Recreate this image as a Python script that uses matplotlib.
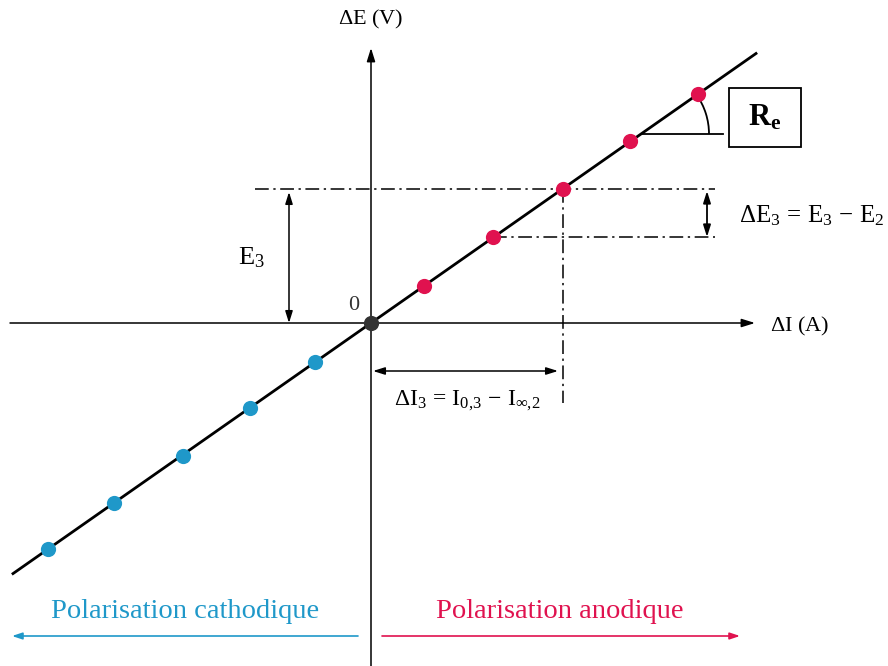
import matplotlib
matplotlib.use("Agg")
import matplotlib.pyplot as plt
import numpy as np
from matplotlib.patches import Arc, Rectangle

plt.rcParams['font.family'] = ['Liberation Serif', 'DejaVu Serif']
plt.rcParams['mathtext.fontset'] = 'custom'
plt.rcParams['mathtext.rm'] = 'Liberation Serif'
plt.rcParams['mathtext.it'] = 'Liberation Serif:italic'
plt.rcParams['mathtext.bf'] = 'Liberation Serif:bold'

# data (arbitrary units, origin at 0)
anodic_dI = [53, 122, 192, 259, 327]
anodic_dE = [37, 86, 134, 182, 229]
cathodic_dI = [-56, -121, -188, -257, -323]
cathodic_dE = [-39, -85, -133, -180, -226]
origin = [0, 0]
Re = 0.70
line_dI = [-358, 385]

RED = '#e0124f'
BLUE = '#1f98c9'
DARK = '#333333'

fig = plt.figure(figsize=(8.88, 6.66), dpi=100)
ax = fig.add_axes([0, 0, 1, 1])
ax.set_xlim(-371, 517)
ax.set_ylim(-343, 323)
ax.axis('off')

ahead = '-|>,head_length=0.8,head_width=0.25'
# axes
ax.annotate('', xy=(384, 0), xytext=(-361, 0),
            arrowprops=dict(arrowstyle=ahead, color='black', lw=1.1, shrinkA=0, shrinkB=0))
ax.annotate('', xy=(0, 275), xytext=(0, -343),
            arrowprops=dict(arrowstyle=ahead, color='black', lw=1.1, shrinkA=0, shrinkB=0))
ax.text(0, 304, r'$\Delta$E (V)', ha='center', va='center', fontsize=16)
ax.text(399, -3, r'$\Delta$I (A)', ha='left', va='center', fontsize=16)
ax.text(-17, 17, '0', ha='center', va='center', fontsize=16, color=DARK)

# fit line
lx = np.array(line_dI, dtype=float)
ax.plot(lx, Re * lx, color='black', lw=2, zorder=3)

# points
ax.scatter(anodic_dI, anodic_dE, s=120, color=RED, zorder=4, linewidths=0)
ax.scatter(cathodic_dI, cathodic_dE, s=120, color=BLUE, zorder=4, linewidths=0)
ax.scatter([origin[0]], [origin[1]], s=120, color=DARK, zorder=4, linewidths=0)

# dash-dot guides
dd = (0, (9, 3, 1.5, 3))
x3, y3 = anodic_dI[2], anodic_dE[2]
y2 = anodic_dE[1]
ax.plot([-116, 344], [y3, y3], color='black', lw=1.1, ls=dd)
ax.plot([anodic_dI[1], 344], [y2, y2], color='black', lw=1.1, ls=dd)
ax.plot([x3, x3], [y3, -80], color='black', lw=1.1, ls=dd)

dbl = '<|-|>,head_length=0.7,head_width=0.22'
# E3 arrow
ax.annotate('', xy=(-82, 0), xytext=(-82, y3 - 3),
            arrowprops=dict(arrowstyle=dbl, color='black', lw=1.1, shrinkA=0, shrinkB=0))
ax.text(-120, 65, r'$\mathrm{E}_3$', ha='center', va='center', fontsize=19)

# Delta E3 arrow
ax.annotate('', xy=(336, y2), xytext=(336, y3 - 2),
            arrowprops=dict(arrowstyle=dbl, color='black', lw=1.3, shrinkA=0, shrinkB=0))
ax.text(368, 107, r'$\Delta\mathrm{E}_3\,=\,\mathrm{E}_3\,-\,\mathrm{E}_2$', ha='left', va='center', fontsize=18)

# Delta I3 arrow
ax.annotate('', xy=(2, -48), xytext=(x3 - 5, -48),
            arrowprops=dict(arrowstyle=dbl, color='black', lw=1.1, shrinkA=0, shrinkB=0))
ax.text(96, -78, r'$\Delta\mathrm{I}_3\,=\,\mathrm{I}_{0{,}3}\,-\,\mathrm{I}_{\infty{,}2}$',
        ha='center', va='center', fontsize=17)

# slope angle
ax0 = 270
ay0 = Re * ax0
ax.plot([ax0, ax0 + 82], [ay0, ay0], color='black', lw=1.3)
ax.add_patch(Arc((ax0, ay0), 136, 136, theta1=0, theta2=np.degrees(np.arctan(Re)),
                 color='black', lw=1.3))
ax.add_patch(Rectangle((358, 176), 72, 59, fill=False, ec='black', lw=1.3, zorder=5))
ax.text(394, 205, r'$\mathbf{R_e}$', ha='center', va='center', fontsize=22)

# polarisation arrows
ax.text(-186, -288, 'Polarisation cathodique', ha='center', va='center', fontsize=20.5, color=BLUE)
ax.annotate('', xy=(-359, -313), xytext=(-13, -313),
            arrowprops=dict(arrowstyle='-|>,head_length=0.6,head_width=0.2', color=BLUE, lw=1.2, shrinkA=0, shrinkB=0))
ax.text(189, -288, 'Polarisation anodique', ha='center', va='center', fontsize=20.5, color=RED)
ax.annotate('', xy=(369, -313), xytext=(11, -313),
            arrowprops=dict(arrowstyle='-|>,head_length=0.6,head_width=0.2', color=RED, lw=1.2, shrinkA=0, shrinkB=0))

fig.savefig('out.png', dpi=100)
